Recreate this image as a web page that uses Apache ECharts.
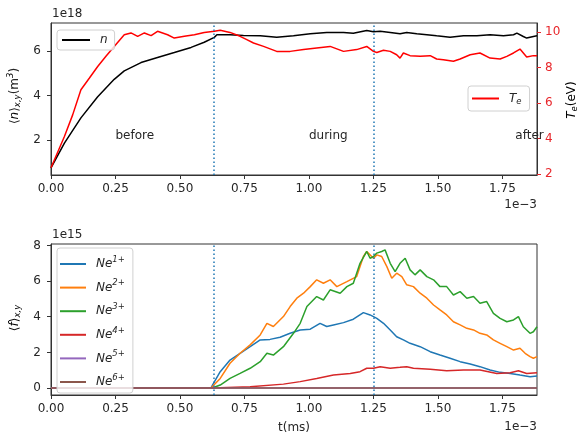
<!DOCTYPE html>
<html><head><meta charset="utf-8">
<script src="https://cdn.jsdelivr.net/npm/echarts@6/dist/echarts.min.js"></script>
<style>html,body{margin:0;padding:0;background:#fff}#c{width:580px;height:436px}</style>
</head><body><div id="c"></div>
<script>
// time in units of 1e-3 (ms)
const xTicks = [0, 0.25, 0.5, 0.75, 1.0, 1.25, 1.5, 1.75];
const nTicks = [2, 4, 6];            // x1e18
const teTicks = [2, 4, 6, 8, 10];    // eV
const fTicks = [0, 2, 4, 6, 8];      // x1e15
const phaseLines = [0.625, 1.25];
const phaseNames = ['before', 'during', 'after'];
const phaseX = [0.25, 1.0, 1.8];
const phaseY = [2, 2, 2];

const nData = [[0,0.75],[0.052,1.86],[0.116,2.99],[0.181,3.94],[0.245,4.72],[0.284,5.10],[0.349,5.47],[0.413,5.70],[0.478,5.92],[0.543,6.15],[0.594,6.38],[0.633,6.60],[0.643,6.72],[0.694,6.72],[0.746,6.69],[0.811,6.67],[0.875,6.61],[0.940,6.67],[1.005,6.76],[1.069,6.82],[1.134,6.82],[1.172,6.79],[1.224,6.91],[1.250,6.85],[1.276,6.87],[1.315,6.82],[1.353,6.76],[1.379,6.82],[1.418,6.76],[1.457,6.72],[1.495,6.67],[1.547,6.61],[1.599,6.67],[1.651,6.67],[1.702,6.72],[1.754,6.67],[1.793,6.72],[1.806,6.79],[1.831,6.64],[1.844,6.57],[1.870,6.64],[1.884,6.67]];

const teData = [[0,2.35],[0.052,4.11],[0.084,5.33],[0.116,6.75],[0.149,7.41],[0.181,8.06],[0.213,8.63],[0.245,9.19],[0.284,9.85],[0.310,9.95],[0.336,9.76],[0.362,9.95],[0.388,9.80],[0.413,10.04],[0.452,9.85],[0.478,9.66],[0.517,9.76],[0.556,9.85],[0.594,9.98],[0.633,10.04],[0.656,10.10],[0.694,9.98],[0.733,9.76],[0.759,9.57],[0.785,9.38],[0.824,9.19],[0.875,8.91],[0.927,8.91],[0.979,9.01],[1.030,9.10],[1.082,9.19],[1.134,8.91],[1.185,9.01],[1.224,9.19],[1.250,8.91],[1.263,8.85],[1.289,8.97],[1.315,8.91],[1.340,8.72],[1.353,8.53],[1.366,8.82],[1.392,8.67],[1.431,8.63],[1.470,8.67],[1.495,8.48],[1.521,8.44],[1.560,8.35],[1.586,8.48],[1.625,8.72],[1.663,8.82],[1.702,8.53],[1.741,8.48],[1.767,8.63],[1.793,8.82],[1.818,9.04],[1.844,8.59],[1.870,8.67],[1.884,8.67]];

const ne1Data = [[0,0],[0.62,0],[0.626,0.16],[0.656,0.92],[0.694,1.57],[0.733,1.95],[0.772,2.32],[0.811,2.70],[0.849,2.73],[0.888,2.85],[0.927,3.07],[0.966,3.26],[1.005,3.30],[1.043,3.63],[1.069,3.45],[1.095,3.54],[1.134,3.67],[1.172,3.86],[1.211,4.23],[1.237,4.10],[1.263,3.91],[1.289,3.63],[1.315,3.26],[1.340,2.88],[1.366,2.70],[1.392,2.51],[1.431,2.32],[1.470,2.04],[1.508,1.85],[1.547,1.67],[1.586,1.48],[1.625,1.35],[1.663,1.20],[1.702,1.01],[1.741,0.88],[1.780,0.82],[1.818,0.73],[1.857,0.64],[1.884,0.67]];

const ne2Data = [[0,0],[0.62,0],[0.626,0.05],[0.656,0.54],[0.694,1.39],[0.733,1.95],[0.772,2.42],[0.811,2.98],[0.837,3.63],[0.862,3.45],[0.901,4.01],[0.927,4.57],[0.953,5.04],[0.979,5.32],[1.005,5.69],[1.030,6.07],[1.056,5.88],[1.082,6.07],[1.108,5.69],[1.147,5.97],[1.185,6.25],[1.211,7.38],[1.224,7.66],[1.250,7.28],[1.263,7.47],[1.282,7.38],[1.302,6.81],[1.321,6.16],[1.340,6.44],[1.360,6.25],[1.379,5.79],[1.405,5.69],[1.431,5.32],[1.457,5.04],[1.483,4.66],[1.508,4.38],[1.534,4.10],[1.560,3.72],[1.586,3.54],[1.612,3.35],[1.638,3.26],[1.663,3.07],[1.689,2.98],[1.715,2.70],[1.741,2.51],[1.767,2.32],[1.793,2.13],[1.818,2.23],[1.838,1.95],[1.857,1.76],[1.870,1.67],[1.884,1.76]];

const ne3Data = [[0,0],[0.625,0],[0.656,0.17],[0.694,0.54],[0.733,0.82],[0.772,1.11],[0.811,1.48],[0.837,1.95],[0.862,1.85],[0.901,2.32],[0.940,3.07],[0.966,3.63],[0.992,4.57],[1.030,5.13],[1.056,4.94],[1.082,5.51],[1.121,5.32],[1.147,5.69],[1.172,5.88],[1.198,7.00],[1.224,7.66],[1.237,7.28],[1.250,7.38],[1.263,7.57],[1.282,7.66],[1.295,7.75],[1.315,7.00],[1.334,6.53],[1.353,7.00],[1.373,7.28],[1.392,6.63],[1.411,6.35],[1.431,6.63],[1.457,6.25],[1.483,6.07],[1.508,5.69],[1.534,5.69],[1.560,5.22],[1.586,5.41],[1.612,5.04],[1.638,5.13],[1.663,4.76],[1.689,4.85],[1.715,4.19],[1.741,3.91],[1.767,3.72],[1.793,3.82],[1.812,4.01],[1.831,3.44],[1.857,3.07],[1.870,3.16],[1.884,3.44]];

const ne4Data = [[0,0],[0.625,0],[0.772,0.07],[0.901,0.22],[0.966,0.36],[1.030,0.54],[1.095,0.73],[1.160,0.82],[1.198,0.92],[1.224,1.11],[1.250,1.11],[1.276,1.20],[1.315,1.11],[1.353,1.16],[1.379,1.20],[1.405,1.11],[1.470,1.05],[1.534,0.97],[1.599,1.01],[1.663,1.01],[1.728,0.82],[1.780,0.86],[1.812,0.97],[1.844,0.82],[1.884,0.86]];

const ne5Data = [[0,0],[0.625,0],[1.25,0],[1.884,0]];
const ne6Data = [[0,0],[0.625,0],[1.25,0],[1.884,0]];

const neNames = ['Ne1+','Ne2+','Ne3+','Ne4+','Ne5+','Ne6+'];
const neSeries = [ne1Data, ne2Data, ne3Data, ne4Data, ne5Data, ne6Data];
const neColors = ['#1f77b4','#ff7f0e','#2ca02c','#d62728','#9467bd','#8c564b'];

const FONT = 'DejaVu Sans';
const TXT = '#262626';
const SPINE = '#333333';
const RED_LBL = '#e8262b';

function xAxisCfg(gi) {
  return {
    gridIndex: gi, type: 'value', min: 0, max: 1.884,
    axisLine: {show: true, onZero: false, lineStyle: {color: SPINE, width: 1}},
    axisTick: {show: true, length: 4, customValues: xTicks, lineStyle: {color: SPINE}},
    axisLabel: {customValues: xTicks, formatter: v => v.toFixed(2), fontFamily: FONT, fontSize: 12, color: TXT, margin: 8},
    splitLine: {show: false}
  };
}
function yAxisCfg(gi, min, max, ticks, pos, color, margin) {
  return {
    gridIndex: gi, type: 'value', min: min, max: max, position: pos,
    axisLine: {show: true, onZero: false, lineStyle: {color: SPINE, width: 1}},
    axisTick: {show: true, length: 4, customValues: ticks, lineStyle: {color: color}},
    axisLabel: {customValues: ticks, formatter: v => String(v), fontFamily: FONT, fontSize: 12, color: color === SPINE ? TXT : color, margin: margin},
    splitLine: {show: false}
  };
}

const dotted = {
  symbol: ['none','none'], silent: true, label: {show: false},
  lineStyle: {color: '#1f77b4', type: [1.5, 2.5], width: 1.5},
  data: phaseLines.map(x => ({xAxis: x}))
};

const richBase = {
  i: {fontFamily: FONT, fontStyle: 'italic', fontSize: 12, color: TXT, lineHeight: 16},
  ip: {fontFamily: FONT, fontStyle: 'italic', fontSize: 12, color: TXT, lineHeight: 16, padding: [0,0,0,5]},
  sup: {fontFamily: FONT, fontStyle: 'italic', fontSize: 8.5, color: TXT, lineHeight: 16, padding: [0,0,9,0]},
  sub: {fontFamily: FONT, fontStyle: 'italic', fontSize: 8.5, color: TXT, lineHeight: 16, padding: [6,0,0,0]}
};

const series = [
  {name: 'n', type: 'line', xAxisIndex: 0, yAxisIndex: 0, data: nData, showSymbol: false,
   lineStyle: {color: '#000', width: 1.5}, itemStyle: {color: '#000'},
   markLine: dotted,
   markPoint: {
     symbol: 'circle', symbolSize: 0, silent: true,
     label: {show: true, position: 'right', distance: 0, offset: [0, -4], formatter: p => p.name,
             fontFamily: FONT, fontSize: 12, color: TXT},
     data: phaseNames.map((nm, k) => ({name: nm, coord: [phaseX[k], phaseY[k]]}))
   }},
  {name: 'Te', type: 'line', xAxisIndex: 0, yAxisIndex: 1, data: teData, showSymbol: false,
   lineStyle: {color: '#ff0000', width: 1.5}, itemStyle: {color: '#ff0000'}}
];
neNames.forEach((nm, k) => {
  const s = {name: nm, type: 'line', xAxisIndex: 1, yAxisIndex: 2, data: neSeries[k], showSymbol: false,
    lineStyle: {color: neColors[k], width: 1.5}, itemStyle: {color: neColors[k]}};
  if (k === 0) s.markLine = dotted;
  series.push(s);
});

const legendBox = {backgroundColor: 'rgba(255,255,255,0.8)', borderColor: '#d0d0d0', borderWidth: 1, borderRadius: 3, icon: 'rect', itemHeight: 2};

const option = {
  animation: false,
  backgroundColor: '#fff',
  grid: [
    {left: 51, top: 23, width: 486, height: 152, show: true, borderColor: SPINE, borderWidth: 1, backgroundColor: 'transparent'},
    {left: 51, top: 244, width: 486, height: 151, show: true, borderColor: SPINE, borderWidth: 1, backgroundColor: 'transparent'}
  ],
  xAxis: [xAxisCfg(0), xAxisCfg(1)],
  yAxis: [
    yAxisCfg(0, 0.43, 7.245, nTicks, 'left', SPINE, 10),
    yAxisCfg(0, 1.94, 10.51, teTicks, 'right', RED_LBL, 8),
    yAxisCfg(1, -0.39, 8.08, fTicks, 'left', SPINE, 10)
  ],
  legend: [
    Object.assign({}, legendBox, {data: ['n'], left: 57, top: 30, itemWidth: 28, padding: [4, 7, 4, 5],
      formatter: () => '{ip|n}', textStyle: {rich: richBase}}),
    Object.assign({}, legendBox, {data: ['Te'], left: 468, top: 86, itemWidth: 27, padding: [5, 8, 5, 4],
      formatter: () => '{ip|T}{sub|e}', textStyle: {rich: richBase}}),
    Object.assign({}, legendBox, {data: neNames, left: 57, top: 248, orient: 'vertical', itemWidth: 26, itemGap: 5.6,
      padding: [7, 8, 2, 3],
      formatter: nm => '{ip|Ne}{sup|' + nm.slice(2) + '}', textStyle: {rich: richBase}})
  ],
  graphic: [
    {type: 'text', left: 52, top: 8, style: {text: '1e18', fontFamily: FONT, fontSize: 12, fill: TXT}},
    {type: 'text', right: 43, top: 199, style: {text: '1e\u22123', fontFamily: FONT, fontSize: 12, fill: TXT}},
    {type: 'text', left: 52, top: 229, style: {text: '1e15', fontFamily: FONT, fontSize: 12, fill: TXT}},
    {type: 'text', right: 43, top: 421, style: {text: '1e\u22123', fontFamily: FONT, fontSize: 12, fill: TXT}},
    {type: 'text', x: 294, y: 428, style: {text: 't(ms)', fontFamily: FONT, fontSize: 12, fill: TXT, align: 'center', verticalAlign: 'middle'}},
    {type: 'text', x: 15, y: 96, rotation: Math.PI / 2,
     style: {text: '{a|\u27E8}{i|n}{a|\u27E9}{sub|x,y}{a|(m}{sup|3}{a|)}', align: 'center', verticalAlign: 'middle',
       rich: Object.assign({a: {fontFamily: FONT, fontSize: 12, fill: TXT, color: TXT, lineHeight: 16}}, richBase)}},
    {type: 'text', x: 15, y: 318, rotation: Math.PI / 2,
     style: {text: '{a|\u27E8}{i|f}{a|\u27E9}{sub|x,y}', align: 'center', verticalAlign: 'middle',
       rich: Object.assign({a: {fontFamily: FONT, fontSize: 12, color: TXT, lineHeight: 16}}, richBase)}},
    {type: 'text', x: 572, y: 100, rotation: Math.PI / 2,
     style: {text: '{r|T}{rs|e}{ra|(eV)}', align: 'center', verticalAlign: 'middle',
       rich: {
         r: {fontFamily: FONT, fontStyle: 'italic', fontSize: 12, color: RED_LBL, lineHeight: 16},
         rs: {fontFamily: FONT, fontStyle: 'italic', fontSize: 8.5, color: RED_LBL, lineHeight: 16, padding: [6,0,0,0]},
         ra: {fontFamily: FONT, fontSize: 12, color: RED_LBL, lineHeight: 16}
       }}}
  ],
  series: series
};

const chart = echarts.init(document.getElementById('c'), null, {renderer: 'canvas'});
chart.setOption(option);
</script>
</body></html>
